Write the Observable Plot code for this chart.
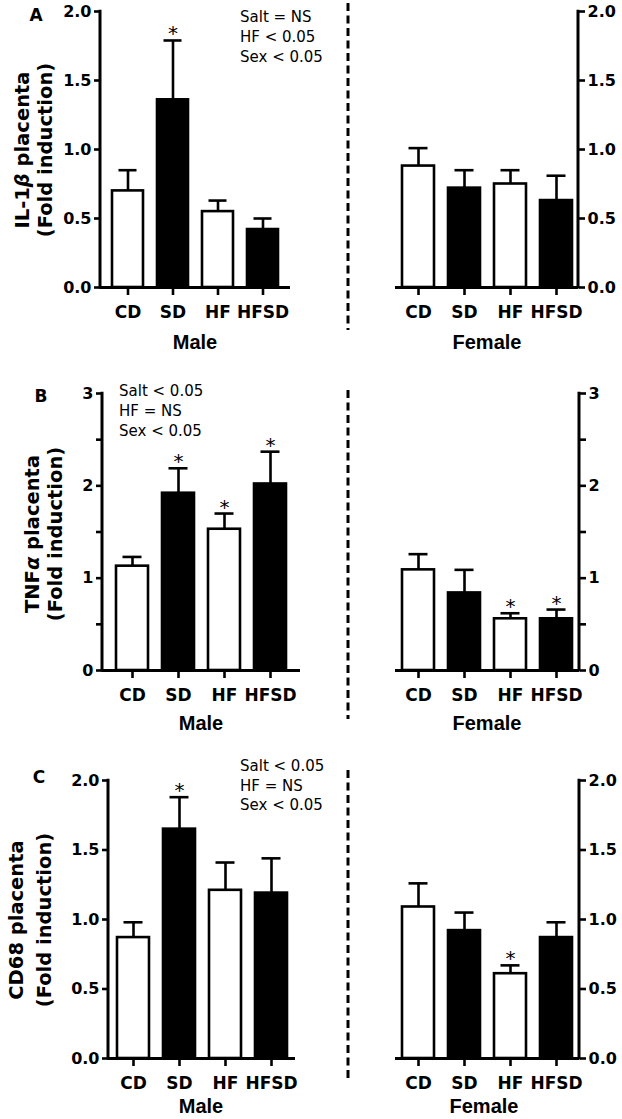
<!DOCTYPE html>
<html>
<head>
<meta charset="utf-8">
<script src="https://cdn.jsdelivr.net/npm/d3@7"></script>
<script src="https://cdn.jsdelivr.net/npm/@observablehq/plot@0.6"></script>
<style>
  html, body { margin: 0; padding: 0; background: #fff; }
  #fig { position: relative; width: 622px; height: 1119px; overflow: hidden; background: #fff; color: #000; }
  #fig svg { position: absolute; overflow: visible; }
  .lbl { position: absolute; white-space: nowrap; line-height: 1; color: #000; }
  .ctr { transform: translate(-50%, -50%); }
  .rot { transform: translate(-50%, -50%) rotate(-90deg); }
  .lft { transform: translate(0, -50%); }
</style>
</head>
<body>
<div id="fig"></div>
<script>
// ---------------- data ----------------
const groups = ["CD", "SD", "HF", "HFSD"];
const barFill = ["white", "black", "white", "black"];
const sexLabels = ["Male", "Female"];
const panelLetters = ["A", "B", "C"];

// Panel A: IL-1β placenta (bar mean, top of error bar, significance star)
const il1bMaleMean    = [0.70, 1.36, 0.55, 0.42];
const il1bMaleUpper   = [0.85, 1.79, 0.63, 0.50];
const il1bMaleStar    = [0, 1, 0, 0];
const il1bFemaleMean  = [0.88, 0.72, 0.75, 0.63];
const il1bFemaleUpper = [1.01, 0.85, 0.85, 0.81];
const il1bFemaleStar  = [0, 0, 0, 0];

// Panel B: TNFα placenta
const tnfMaleMean    = [1.13, 1.92, 1.53, 2.02];
const tnfMaleUpper   = [1.23, 2.19, 1.70, 2.37];
const tnfMaleStar    = [0, 1, 1, 1];
const tnfFemaleMean  = [1.09, 0.84, 0.56, 0.56];
const tnfFemaleUpper = [1.26, 1.09, 0.62, 0.66];
const tnfFemaleStar  = [0, 0, 1, 1];

// Panel C: CD68 placenta
const cd68MaleMean    = [0.87, 1.65, 1.21, 1.19];
const cd68MaleUpper   = [0.98, 1.88, 1.41, 1.44];
const cd68MaleStar    = [0, 1, 0, 0];
const cd68FemaleMean  = [1.09, 0.92, 0.61, 0.87];
const cd68FemaleUpper = [1.26, 1.05, 0.67, 0.98];
const cd68FemaleStar  = [0, 0, 1, 0];

// axis ticks
const ticks2 = [0, 0.5, 1, 1.5, 2];
const ticks2Labels = ["0.0", "0.5", "1.0", "1.5", "2.0"];
const ticks3 = [0, 0.5, 1, 1.5, 2, 2.5, 3];
const ticks3Labels = ["0", "", "1", "", "2", "", "3"];

// texts
const yTitleA = ["IL-1<i>β</i> placenta", "(Fold induction)"];
const yTitleB = ["TNF<i>α</i> placenta", "(Fold induction)"];
const yTitleC = ["CD68 placenta", "(Fold induction)"];
const statsA = ["Salt = NS", "HF &lt; 0.05", "Sex &lt; 0.05"];
const statsB = ["Salt &lt; 0.05", "HF = NS", "Sex &lt; 0.05"];
const statsC = ["Salt &lt; 0.05", "HF = NS", "Sex &lt; 0.05"];

// ---------------- drawing ----------------
const fig = document.getElementById("fig");
const BOLD_FONT = "'DejaVu Sans', 'Liberation Sans', sans-serif";

function subplot(cfg) {
  const rows = groups.map((g, i) => ({
    g, mean: cfg.mean[i], upper: cfg.upper[i], star: cfg.star[i], fill: barFill[i]
  }));
  const tickLabel = new Map(cfg.ticks.map((t, i) => [t, cfg.tickLabels[i]]));
  const plot = Plot.plot({
    width: cfg.w, height: cfg.h,
    marginLeft: cfg.ml, marginRight: cfg.mr, marginTop: cfg.mt, marginBottom: cfg.mb,
    style: { fontFamily: BOLD_FONT, fontSize: "15.5px", fontWeight: "bold", overflow: "visible", background: "none", color: "#000" },
    x: { domain: groups, paddingInner: 0.31, paddingOuter: cfg.po, label: null },
    y: { domain: cfg.yDomain, label: null },
    color: { type: "identity" },
    marks: [
      Plot.ruleX(rows, { x: "g", y1: "mean", y2: "upper", stroke: "#000", strokeWidth: 2.6 }),
      Plot.tickY(rows, { x: "g", y: "upper", insetLeft: 6.5, insetRight: 6.5, stroke: "#000", strokeWidth: 2.6 }),
      Plot.barY(rows, { x: "g", y: "mean", fill: "fill", stroke: "#000", strokeWidth: 2.6 }),
      Plot.text(rows.filter(d => d.star), {
        x: "g", y: "upper", text: () => "*", lineAnchor: "bottom", dy: 0,
        fontSize: 20, fontWeight: "normal", fontFamily: "'DejaVu Sans', sans-serif", fill: "#000"
      }),
      Plot.ruleY([0], { stroke: "#000", strokeWidth: 3 }),
      Plot.axisX({ tickSize: 8, tickPadding: 10, strokeWidth: 2.6, label: null, fill: "#000", stroke: "#000", fontSize: 17 }),
      Plot.axisY({
        anchor: cfg.side, ticks: cfg.ticks, tickFormat: d => tickLabel.get(d),
        tickSize: 6, tickPadding: 3, strokeWidth: 2.6, label: null, fill: "#000", stroke: "#000", fontSize: 16
      })
    ]
  });
  // y-axis line along the frame edge, taken from the plot's own scales
  const sx = plot.scale("x"), sy = plot.scale("y");
  const xr = sx.range, yr = sy.range;
  const ax = cfg.side === "left" ? Math.min(...xr) : Math.max(...xr);
  d3.select(plot).append("line")
    .attr("x1", ax).attr("x2", ax)
    .attr("y1", Math.max(...yr) + 1.5).attr("y2", Math.min(...yr) - 1.3)
    .attr("stroke", "#000").attr("stroke-width", 3);
  plot.style.left = cfg.left + "px";
  plot.style.top = cfg.top + "px";
  fig.appendChild(plot);
  return plot;
}

function addText(html, x, y, cls, font) {
  const d = document.createElement("div");
  d.className = "lbl " + cls;
  d.innerHTML = html;
  d.style.left = x + "px";
  d.style.top = y + "px";
  d.style.font = font;
  fig.appendChild(d);
}

// ---- Panel A ----
subplot({ left: 0, top: 0, w: 300, h: 330, ml: 100, mr: 10, mt: 11, mb: 43, po: 0.25,
  side: "left", yDomain: [0, 2], ticks: ticks2, tickLabels: ticks2Labels,
  mean: il1bMaleMean, upper: il1bMaleUpper, star: il1bMaleStar });
subplot({ left: 350, top: 0, w: 272, h: 330, ml: 45, mr: 44, mt: 11, mb: 43, po: 0.14,
  side: "right", yDomain: [0, 2], ticks: ticks2, tickLabels: ticks2Labels,
  mean: il1bFemaleMean, upper: il1bFemaleUpper, star: il1bFemaleStar });

// ---- Panel B ----
subplot({ left: 0, top: 370, w: 310, h: 340, ml: 102, mr: 10, mt: 23, mb: 40, po: 0.3,
  side: "left", yDomain: [0, 3], ticks: ticks3, tickLabels: ticks3Labels,
  mean: tnfMaleMean, upper: tnfMaleUpper, star: tnfMaleStar });
subplot({ left: 350, top: 370, w: 272, h: 340, ml: 45, mr: 43, mt: 23, mb: 40, po: 0.14,
  side: "right", yDomain: [0, 3], ticks: ticks3, tickLabels: ticks3Labels,
  mean: tnfFemaleMean, upper: tnfFemaleUpper, star: tnfFemaleStar });

// ---- Panel C ----
subplot({ left: 0, top: 760, w: 305, h: 340, ml: 108, mr: 10, mt: 20, mb: 42, po: 0.17,
  side: "left", yDomain: [0, 2], ticks: ticks2, tickLabels: ticks2Labels,
  mean: cd68MaleMean, upper: cd68MaleUpper, star: cd68MaleStar });
subplot({ left: 350, top: 760, w: 272, h: 340, ml: 45, mr: 43, mt: 20, mb: 42, po: 0.14,
  side: "right", yDomain: [0, 2], ticks: ticks2, tickLabels: ticks2Labels,
  mean: cd68FemaleMean, upper: cd68FemaleUpper, star: cd68FemaleStar });

// ---- dashed separators ----
const sep = d3.select(fig).append("svg")
  .attr("width", 622).attr("height", 1119)
  .style("left", "0px").style("top", "0px");
[[3, 330], [390, 719], [770, 1082]].forEach(([a, b]) => {
  sep.append("line").attr("x1", 348).attr("x2", 348).attr("y1", a).attr("y2", b)
    .attr("stroke", "#000").attr("stroke-width", 3).attr("stroke-dasharray", "8,4.5");
});

// ---- labels ----
const letterFont = "bold 17px 'DejaVu Sans', sans-serif";
addText(panelLetters[0], 36, 15, "ctr", letterFont);
addText(panelLetters[1], 41, 396, "ctr", letterFont);
addText(panelLetters[2], 39, 777, "ctr", letterFont);

const titleFont = "bold 19.5px 'DejaVu Sans', sans-serif";
addText(yTitleA[0], 22, 150, "rot", titleFont);
addText(yTitleA[1], 45, 150, "rot", titleFont);
addText(yTitleB[0], 32, 534, "rot", titleFont);
addText(yTitleB[1], 55, 534, "rot", titleFont);
addText(yTitleC[0], 16, 920, "rot", titleFont);
addText(yTitleC[1], 44, 920, "rot", titleFont);

const statFont = "15px 'DejaVu Sans', sans-serif";
statsA.forEach((s, i) => addText(s, 240, 17 + 20 * i, "lft", statFont));
statsB.forEach((s, i) => addText(s, 119, 391 + 20 * i, "lft", statFont));
statsC.forEach((s, i) => addText(s, 240, 766 + 19.5 * i, "lft", statFont));

const sexFont = "bold 20px 'Liberation Sans', Arial, sans-serif";
addText(sexLabels[0], 195, 342, "ctr", sexFont);
addText(sexLabels[1], 487, 342, "ctr", sexFont);
addText(sexLabels[0], 201, 723, "ctr", sexFont);
addText(sexLabels[1], 487, 723, "ctr", sexFont);
addText(sexLabels[0], 201, 1106, "ctr", sexFont);
addText(sexLabels[1], 484, 1106, "ctr", sexFont);
</script>
</body>
</html>
